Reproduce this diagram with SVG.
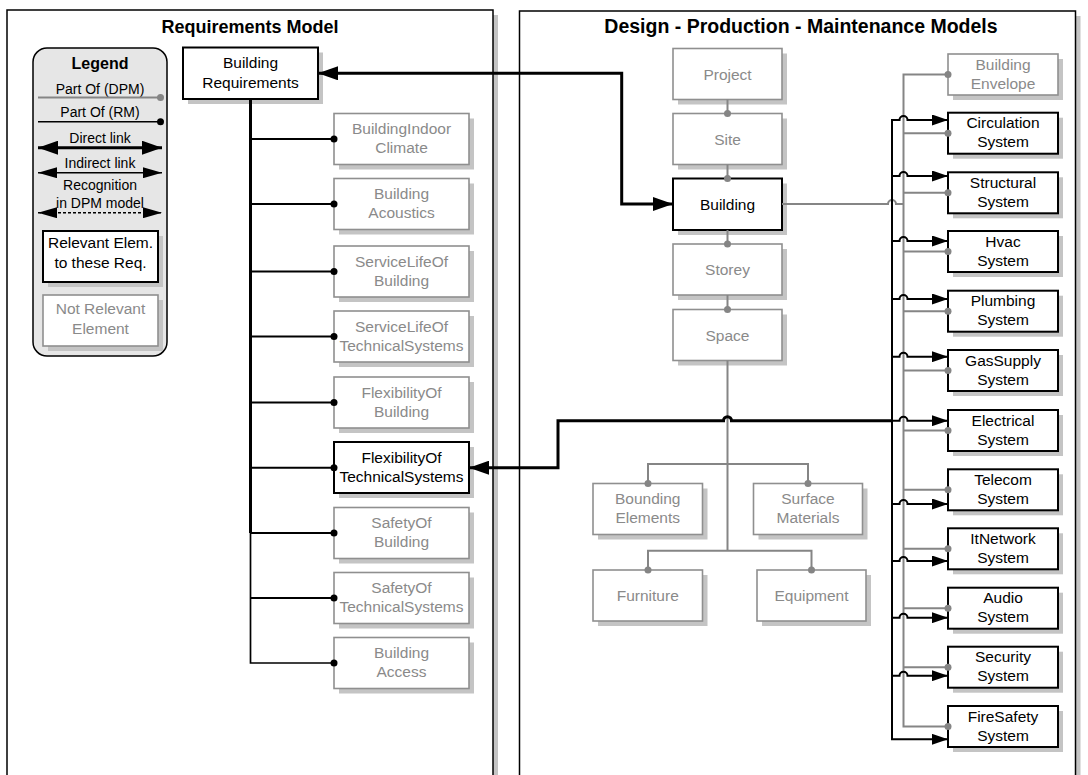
<svg xmlns="http://www.w3.org/2000/svg" width="1088" height="775" viewBox="0 0 1088 775">
  <style>
    text { font-family: "Liberation Sans", Arial, Helvetica, sans-serif; font-size: 15.5px; text-anchor: middle; fill: #000; }
    .title { font-weight: bold; font-size: 18px; }
    .lg { font-size: 14px; }
    .shadow { fill: #c4c4c4; stroke: none; }
    .panel { fill: #fff; stroke: #000; stroke-width: 1.5; }
    .rel rect.b { fill: #fff; stroke: #000; stroke-width: 2; }
    .nrel rect.b { fill: #fff; stroke: #8f8f8f; stroke-width: 1.6; }
    .nrel text { fill: #8a8a8a; }
    .ln { fill: none; stroke-linejoin: miter; }
    .blk { stroke: #000; stroke-width: 2; }
    .thick { stroke: #000; stroke-width: 3; }
    .gry { stroke: #858585; stroke-width: 2; }
    .dash { stroke: #000; stroke-width: 1.6; stroke-dasharray: 3 2; }
    .dg { fill: #858585; }
    .db { fill: #000; }
  </style>
  <defs>
    <marker id="ahL" viewBox="0 0 20 14" refX="20" refY="7" markerWidth="20" markerHeight="14" markerUnits="userSpaceOnUse" orient="auto-start-reverse">
      <path d="M0,0L20,7L0,14z" fill="#000"/>
    </marker>
    <marker id="ahM" viewBox="0 0 19 11" refX="19" refY="5.5" markerWidth="19" markerHeight="11" markerUnits="userSpaceOnUse" orient="auto-start-reverse">
      <path d="M0,0L19,5.5L0,11z" fill="#000"/>
    </marker>
    <marker id="ahS" viewBox="0 0 16 11" refX="16" refY="5.5" markerWidth="16" markerHeight="11" markerUnits="userSpaceOnUse" orient="auto-start-reverse">
      <path d="M0,0L16,5.5L0,11z" fill="#000"/>
    </marker>
  </defs>

  <rect width="1088" height="775" fill="#fff"/>

  <!-- Panels -->
  <g id="panel-rm">
    <rect class="shadow" x="12" y="15" width="486" height="800"/>
    <rect class="panel" x="7" y="10" width="486" height="800"/>
    <text class="title" x="250" y="33">Requirements Model</text>
  </g>
  <g id="panel-dpm">
    <rect class="shadow" x="524.5" y="16" width="556" height="800"/>
    <rect class="panel" x="519.5" y="11" width="556" height="800"/>
    <text class="title" x="801" y="33" style="font-size:19.5px">Design - Production - Maintenance Models</text>
  </g>

  <!-- Legend -->
  <g id="legend">
    <rect x="33" y="48" width="134" height="308" rx="14" fill="#e6e6e6" stroke="#000" stroke-width="1.5"/>
    <text x="100" y="69" style="font-weight:bold;font-size:16px">Legend</text>
    <text class="lg" x="100" y="94">Part Of (DPM)</text>
    <path class="ln gry" d="M38,97.5H160.5"/>
    <circle class="dg" cx="160.5" cy="97.5" r="3.5"/>
    <text class="lg" x="100" y="117">Part Of (RM)</text>
    <path class="ln blk" style="stroke-width:1.6" d="M38,121.7H160.5"/>
    <circle class="db" cx="160.5" cy="121.7" r="3.5"/>
    <text class="lg" x="100" y="142.5">Direct link</text>
    <path class="ln thick" d="M38,147.7H162" marker-start="url(#ahL)" marker-end="url(#ahL)"/>
    <text class="lg" x="100" y="168">Indirect link</text>
    <path class="ln blk" style="stroke-width:1.6" d="M38,172.7H162" marker-start="url(#ahM)" marker-end="url(#ahM)"/>
    <text class="lg" x="100" y="190">Recognition</text>
    <text class="lg" x="100" y="207.5">in DPM model</text>
    <path class="ln dash" d="M38,212.7H162" marker-start="url(#ahM)" marker-end="url(#ahM)"/>
    <g class="rel">
      <rect class="shadow" x="48" y="236" width="115" height="51"/>
      <rect class="b" x="43" y="231" width="115" height="51"/>
      <text x="100.5" y="247.5">Relevant Elem.</text>
      <text x="100.5" y="267.5">to these Req.</text>
    </g>
    <g class="nrel">
      <rect class="shadow" x="48" y="300" width="115" height="51"/>
      <rect class="b" x="43" y="295" width="115" height="51"/>
      <text x="100.5" y="314">Not Relevant</text>
      <text x="100.5" y="334">Element</text>
    </g>
  </g>

  <!-- Requirements model nodes -->
  <g id="building-requirements" class="rel">
    <rect class="shadow" x="188" y="52.5" width="135" height="51.5"/>
    <rect class="b" x="183" y="47.5" width="135" height="51.5"/>
    <text x="250.5" y="68.3">Building</text>
    <text x="250.5" y="88">Requirements</text>
  </g>
  <g id="req-indoor-climate" class="nrel">
    <rect class="shadow" x="339" y="118.5" width="135" height="51"/>
    <rect class="b" x="334" y="113.5" width="135" height="51"/>
    <text x="401.5" y="134">BuildingIndoor</text>
    <text x="401.5" y="153">Climate</text>
  </g>
  <g id="req-acoustics" class="nrel">
    <rect class="shadow" x="339" y="183.5" width="135" height="51"/>
    <rect class="b" x="334" y="178.5" width="135" height="51"/>
    <text x="401.5" y="199">Building</text>
    <text x="401.5" y="218">Acoustics</text>
  </g>
  <g id="req-servicelife-building" class="nrel">
    <rect class="shadow" x="339" y="251" width="135" height="51"/>
    <rect class="b" x="334" y="246" width="135" height="51"/>
    <text x="401.5" y="266.5">ServiceLifeOf</text>
    <text x="401.5" y="285.5">Building</text>
  </g>
  <g id="req-servicelife-systems" class="nrel">
    <rect class="shadow" x="339" y="316" width="135" height="51"/>
    <rect class="b" x="334" y="311" width="135" height="51"/>
    <text x="401.5" y="331.5">ServiceLifeOf</text>
    <text x="401.5" y="350.5">TechnicalSystems</text>
  </g>
  <g id="req-flexibility-building" class="nrel">
    <rect class="shadow" x="339" y="382" width="135" height="51"/>
    <rect class="b" x="334" y="377" width="135" height="51"/>
    <text x="401.5" y="397.5">FlexibilityOf</text>
    <text x="401.5" y="416.5">Building</text>
  </g>
  <g id="req-flexibility-systems" class="rel">
    <rect class="shadow" x="339" y="447" width="135" height="51"/>
    <rect class="b" x="334" y="442" width="135" height="51"/>
    <text x="401.5" y="462.5">FlexibilityOf</text>
    <text x="401.5" y="481.5">TechnicalSystems</text>
  </g>
  <g id="req-safety-building" class="nrel">
    <rect class="shadow" x="339" y="512.5" width="135" height="51"/>
    <rect class="b" x="334" y="507.5" width="135" height="51"/>
    <text x="401.5" y="528">SafetyOf</text>
    <text x="401.5" y="547">Building</text>
  </g>
  <g id="req-safety-systems" class="nrel">
    <rect class="shadow" x="339" y="577.5" width="135" height="51"/>
    <rect class="b" x="334" y="572.5" width="135" height="51"/>
    <text x="401.5" y="593">SafetyOf</text>
    <text x="401.5" y="612">TechnicalSystems</text>
  </g>
  <g id="req-access" class="nrel">
    <rect class="shadow" x="339" y="642.5" width="135" height="51"/>
    <rect class="b" x="334" y="637.5" width="135" height="51"/>
    <text x="401.5" y="658">Building</text>
    <text x="401.5" y="677">Access</text>
  </g>

  <!-- DPM spatial nodes -->
  <g id="project" class="nrel">
    <rect class="shadow" x="678" y="53.5" width="109" height="51"/>
    <rect class="b" x="673" y="48.5" width="109" height="51"/>
    <text x="727.5" y="79.5">Project</text>
  </g>
  <g id="site" class="nrel">
    <rect class="shadow" x="678" y="118.5" width="109" height="51"/>
    <rect class="b" x="673" y="113.5" width="109" height="51"/>
    <text x="727.5" y="144.5">Site</text>
  </g>
  <g id="building" class="rel">
    <rect class="shadow" x="678" y="183.5" width="109" height="51.5"/>
    <rect class="b" x="673" y="178.5" width="109" height="51.5"/>
    <text x="727.5" y="209.5">Building</text>
  </g>
  <g id="storey" class="nrel">
    <rect class="shadow" x="678" y="249" width="109" height="51"/>
    <rect class="b" x="673" y="244" width="109" height="51"/>
    <text x="727.5" y="275">Storey</text>
  </g>
  <g id="space" class="nrel">
    <rect class="shadow" x="678" y="314.5" width="109" height="51"/>
    <rect class="b" x="673" y="309.5" width="109" height="51"/>
    <text x="727.5" y="340.5">Space</text>
  </g>
  <g id="bounding-elements" class="nrel">
    <rect class="shadow" x="598" y="488.5" width="109.5" height="51"/>
    <rect class="b" x="593" y="483.5" width="109.5" height="51"/>
    <text x="647.75" y="504">Bounding</text>
    <text x="647.75" y="523">Elements</text>
  </g>
  <g id="surface-materials" class="nrel">
    <rect class="shadow" x="758.5" y="488.5" width="109" height="51"/>
    <rect class="b" x="753.5" y="483.5" width="109" height="51"/>
    <text x="808" y="504">Surface</text>
    <text x="808" y="523">Materials</text>
  </g>
  <g id="furniture" class="nrel">
    <rect class="shadow" x="598" y="575" width="109.5" height="51"/>
    <rect class="b" x="593" y="570" width="109.5" height="51"/>
    <text x="647.75" y="601">Furniture</text>
  </g>
  <g id="equipment" class="nrel">
    <rect class="shadow" x="762" y="575" width="109" height="51"/>
    <rect class="b" x="757" y="570" width="109" height="51"/>
    <text x="811.5" y="601">Equipment</text>
  </g>

  <!-- DPM building systems -->
  <g id="building-envelope" class="nrel">
    <rect class="shadow" x="953" y="59" width="110" height="41"/>
    <rect class="b" x="948" y="54" width="110" height="41"/>
    <text x="1003" y="69.5">Building</text>
    <text x="1003" y="88.5">Envelope</text>
  </g>
  <g id="circulation-system" class="rel">
    <rect class="shadow" x="953" y="117.7" width="110" height="41"/>
    <rect class="b" x="948" y="112.7" width="110" height="41"/>
    <text x="1003" y="128.2">Circulation</text>
    <text x="1003" y="147.2">System</text>
  </g>
  <g id="structural-system" class="rel">
    <rect class="shadow" x="953" y="177.3" width="110" height="41"/>
    <rect class="b" x="948" y="172.3" width="110" height="41"/>
    <text x="1003" y="187.8">Structural</text>
    <text x="1003" y="206.8">System</text>
  </g>
  <g id="hvac-system" class="rel">
    <rect class="shadow" x="953" y="236" width="110" height="41"/>
    <rect class="b" x="948" y="231" width="110" height="41"/>
    <text x="1003" y="246.5">Hvac</text>
    <text x="1003" y="265.5">System</text>
  </g>
  <g id="plumbing-system" class="rel">
    <rect class="shadow" x="953" y="295.7" width="110" height="41"/>
    <rect class="b" x="948" y="290.7" width="110" height="41"/>
    <text x="1003" y="306.2">Plumbing</text>
    <text x="1003" y="325.2">System</text>
  </g>
  <g id="gassupply-system" class="rel">
    <rect class="shadow" x="953" y="355" width="110" height="41"/>
    <rect class="b" x="948" y="350" width="110" height="41"/>
    <text x="1003" y="365.5">GasSupply</text>
    <text x="1003" y="384.5">System</text>
  </g>
  <g id="electrical-system" class="rel">
    <rect class="shadow" x="953" y="415" width="110" height="41"/>
    <rect class="b" x="948" y="410" width="110" height="41"/>
    <text x="1003" y="425.5">Electrical</text>
    <text x="1003" y="444.5">System</text>
  </g>
  <g id="telecom-system" class="rel">
    <rect class="shadow" x="953" y="474.3" width="110" height="41"/>
    <rect class="b" x="948" y="469.3" width="110" height="41"/>
    <text x="1003" y="484.8">Telecom</text>
    <text x="1003" y="503.8">System</text>
  </g>
  <g id="itnetwork-system" class="rel">
    <rect class="shadow" x="953" y="533.3" width="110" height="41"/>
    <rect class="b" x="948" y="528.3" width="110" height="41"/>
    <text x="1003" y="543.8">ItNetwork</text>
    <text x="1003" y="562.8">System</text>
  </g>
  <g id="audio-system" class="rel">
    <rect class="shadow" x="953" y="592.7" width="110" height="41"/>
    <rect class="b" x="948" y="587.7" width="110" height="41"/>
    <text x="1003" y="603.2">Audio</text>
    <text x="1003" y="622.2">System</text>
  </g>
  <g id="security-system" class="rel">
    <rect class="shadow" x="953" y="651.7" width="110" height="41"/>
    <rect class="b" x="948" y="646.7" width="110" height="41"/>
    <text x="1003" y="662.2">Security</text>
    <text x="1003" y="681.2">System</text>
  </g>
  <g id="firesafety-system" class="rel">
    <rect class="shadow" x="953" y="711" width="110" height="41"/>
    <rect class="b" x="948" y="706" width="110" height="41"/>
    <text x="1003" y="721.5">FireSafety</text>
    <text x="1003" y="740.5">System</text>
  </g>

  <!-- Connectors (drawn last so the end dots sit on the box edges) -->
  <g id="connectors">
    <!-- Requirements model part-of tree -->
    <path class="ln thick" d="M250.5,99V533"/>
    <path class="ln blk" style="stroke-width:1.7" d="M250.5,532V663H334"/>
    <path class="ln blk" d="M250.5,139H334M250.5,204H334M250.5,271.5H334M250.5,336.5H334M250.5,402.5H334M250.5,467.7H334M250.5,533H334M250.5,598H334"/>
    <g class="db">
      <circle cx="334" cy="139" r="3.5"/>
      <circle cx="334" cy="204" r="3.5"/>
      <circle cx="334" cy="271.5" r="3.5"/>
      <circle cx="334" cy="336.5" r="3.5"/>
      <circle cx="334" cy="402.5" r="3.5"/>
      <circle cx="334" cy="467.7" r="3.5"/>
      <circle cx="334" cy="533" r="3.5"/>
      <circle cx="334" cy="598" r="3.5"/>
      <circle cx="334" cy="663" r="3.5"/>
    </g>

    <!-- DPM spatial part-of chain -->
    <path class="ln gry" d="M727.5,99.5V113.5M727.5,164.5V178.5M727.5,230V244M727.5,295V309.5"/>
    <path class="ln gry" d="M727.5,360.5V550.7"/>
    <path class="ln gry" d="M648,483.5V464H808V483.5M648,570V550.7H811.5V570"/>
    <g class="dg">
      <circle cx="727.5" cy="113.5" r="3.5"/>
      <circle cx="727.5" cy="178.5" r="3.5"/>
      <circle cx="727.5" cy="244" r="3.5"/>
      <circle cx="727.5" cy="309.5" r="3.5"/>
      <circle cx="648" cy="483.5" r="3.5"/>
      <circle cx="808" cy="483.5" r="3.5"/>
      <circle cx="648" cy="570" r="3.5"/>
      <circle cx="811.5" cy="570" r="3.5"/>
    </g>

    <!-- Building to systems part-of bus (grey) -->
    <path class="ln gry" d="M782,204H888a4,4 0 0 1 8,0H903.5"/>
    <path class="ln gry" d="M948,74.5H903.5V726.5H948"/>
    <path class="ln gry" d="M903.5,133.2H948M903.5,192.8H948M903.5,251.5H948M903.5,311.2H948M903.5,370.5H948M903.5,430.5H948M903.5,489.8H948M903.5,548.8H948M903.5,608.2H948M903.5,667.2H948"/>
    <g class="dg">
      <circle cx="948" cy="74.5" r="3.5"/>
      <circle cx="948" cy="133.2" r="3.5"/>
      <circle cx="948" cy="192.8" r="3.5"/>
      <circle cx="948" cy="251.5" r="3.5"/>
      <circle cx="948" cy="311.2" r="3.5"/>
      <circle cx="948" cy="370.5" r="3.5"/>
      <circle cx="948" cy="430.5" r="3.5"/>
      <circle cx="948" cy="489.8" r="3.5"/>
      <circle cx="948" cy="548.8" r="3.5"/>
      <circle cx="948" cy="608.2" r="3.5"/>
      <circle cx="948" cy="667.2" r="3.5"/>
      <circle cx="948" cy="726.5" r="3.5"/>
    </g>

    <!-- Direct link: Building Requirements <-> Building -->
    <path class="ln thick" d="M318,73.3H621.7V204H673" marker-start="url(#ahL)" marker-end="url(#ahL)"/>

    <!-- Indirect link: FlexibilityOfTechnicalSystems <-> systems bus -->
    <path class="ln thick" d="M469,467.7H558V420.7H723.5a4,4 0 0 1 8,0H892" marker-start="url(#ahL)"/>

    <!-- Systems bus (black) -->
    <path class="ln blk" d="M948,120H907.5a4,4 0 0 0 -8,0H892V739.3H948" marker-start="url(#ahS)" marker-end="url(#ahS)"/>
    <path class="ln blk" d="M892,176H899.5a4,4 0 0 1 8,0H948" marker-end="url(#ahS)"/>
    <path class="ln blk" d="M892,241H899.5a4,4 0 0 1 8,0H948" marker-end="url(#ahS)"/>
    <path class="ln blk" d="M892,299H899.5a4,4 0 0 1 8,0H948" marker-end="url(#ahS)"/>
    <path class="ln blk" d="M892,356.7H899.5a4,4 0 0 1 8,0H948" marker-end="url(#ahS)"/>
    <path class="ln blk" d="M892,420.7H899.5a4,4 0 0 1 8,0H948" marker-end="url(#ahS)"/>
    <path class="ln blk" d="M892,504H899.5a4,4 0 0 1 8,0H948" marker-end="url(#ahS)"/>
    <path class="ln blk" d="M892,561H899.5a4,4 0 0 1 8,0H948" marker-end="url(#ahS)"/>
    <path class="ln blk" d="M892,617.7H899.5a4,4 0 0 1 8,0H948" marker-end="url(#ahS)"/>
    <path class="ln blk" d="M892,675.7H899.5a4,4 0 0 1 8,0H948" marker-end="url(#ahS)"/>
  </g>
</svg>
